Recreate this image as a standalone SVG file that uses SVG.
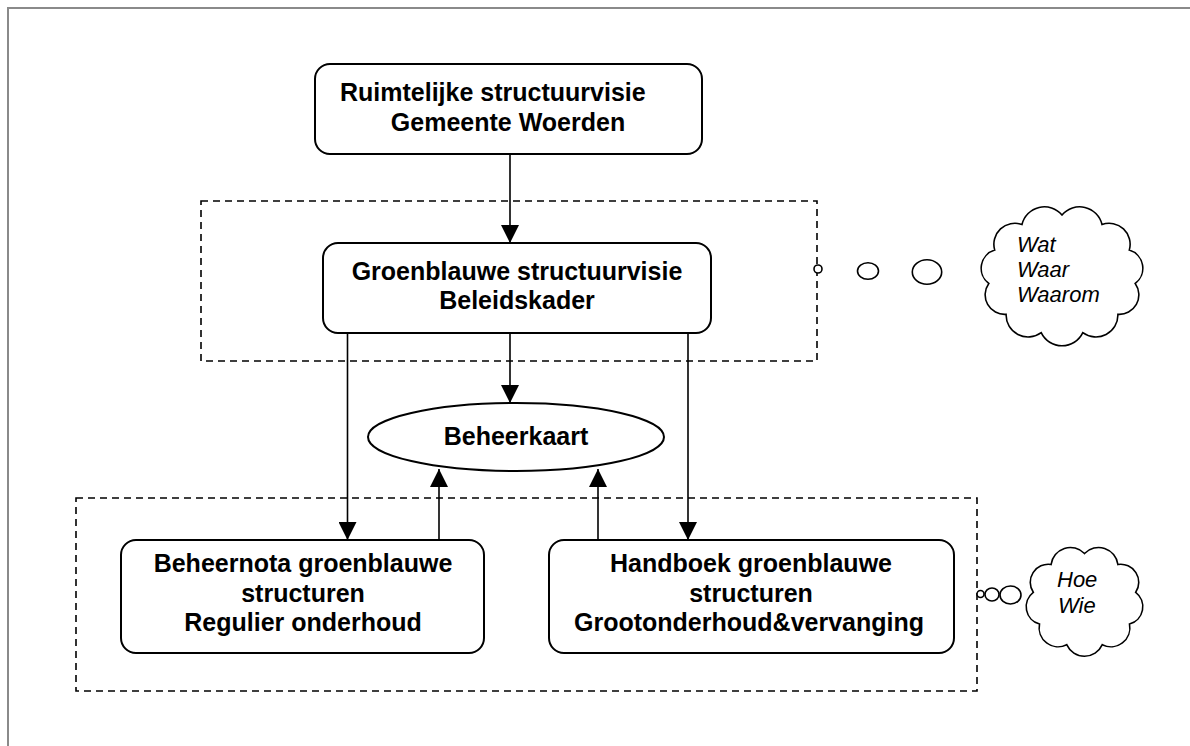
<svg xmlns="http://www.w3.org/2000/svg" width="1190" height="746" viewBox="0 0 1190 746">
  <style>
    .box { fill: #ffffff; stroke: #000000; stroke-width: 2; }
    .dash { fill: none; stroke: #000000; stroke-width: 1.6; stroke-dasharray: 7 5; }
    .conn { fill: none; stroke: #000000; stroke-width: 1.6; }
    .bubble { fill: #ffffff; stroke: #000000; stroke-width: 1.6; }
    .lbl { font-family: "Liberation Sans", Arial, sans-serif; font-size: 25px; font-weight: bold; fill: #000000; }
    .mid { text-anchor: middle; }
    .ital { font-family: "Liberation Sans", Arial, sans-serif; font-size: 22px; font-style: italic; fill: #000000; }
  </style>
  <defs>
    <marker id="arrow" markerUnits="userSpaceOnUse" markerWidth="18" markerHeight="18" refX="18" refY="9" orient="auto">
      <path d="M0,0 L18,9 L0,18 Z" fill="#000000"/>
    </marker>
  </defs>

  <rect x="0" y="0" width="1190" height="746" fill="#ffffff"/>
  <path d="M8,746 V8 H1190" fill="none" stroke="#8a8a8a" stroke-width="2"/>

  <g id="group-beleid">
    <rect class="dash" x="201" y="201" width="616" height="160"/>
  </g>
  <g id="group-uitvoering">
    <rect class="dash" x="76" y="498" width="901" height="193"/>
  </g>

  <g id="connectors">
    <line class="conn" x1="510" y1="154" x2="510" y2="243" marker-end="url(#arrow)"/>
    <line class="conn" x1="347.5" y1="333" x2="347.5" y2="540" marker-end="url(#arrow)"/>
    <line class="conn" x1="510" y1="333" x2="510" y2="403" marker-end="url(#arrow)"/>
    <line class="conn" x1="688" y1="333" x2="688" y2="540" marker-end="url(#arrow)"/>
    <line class="conn" x1="439" y1="540" x2="439" y2="469" marker-end="url(#arrow)"/>
    <line class="conn" x1="598" y1="540" x2="598" y2="469" marker-end="url(#arrow)"/>
  </g>

  <g id="node-ruimtelijk">
    <rect class="box" x="315" y="64" width="387" height="90" rx="15" ry="15"/>
    <text class="lbl" x="340" y="101">Ruimtelijke structuurvisie</text>
    <text class="lbl mid" x="508" y="131">Gemeente Woerden</text>
  </g>

  <g id="node-groenblauw">
    <rect class="box" x="323" y="243" width="388" height="90" rx="15" ry="15"/>
    <text class="lbl mid" x="517" y="280">Groenblauwe structuurvisie</text>
    <text class="lbl mid" x="517" y="309">Beleidskader</text>
  </g>

  <g id="node-beheerkaart">
    <ellipse class="box" cx="516" cy="437" rx="148" ry="34"/>
    <text class="lbl mid" x="516" y="445">Beheerkaart</text>
  </g>

  <g id="node-beheernota">
    <rect class="box" x="121" y="540" width="363" height="113" rx="15" ry="15"/>
    <text class="lbl mid" x="303" y="572">Beheernota groenblauwe</text>
    <text class="lbl mid" x="303" y="602">structuren</text>
    <text class="lbl mid" x="303" y="631">Regulier onderhoud</text>
  </g>

  <g id="node-handboek">
    <rect class="box" x="549" y="540" width="405" height="113" rx="15" ry="15"/>
    <text class="lbl mid" x="751" y="572">Handboek groenblauwe</text>
    <text class="lbl mid" x="751" y="602">structuren</text>
    <text class="lbl mid" x="749" y="631">Grootonderhoud&amp;vervanging</text>
  </g>

  <g id="cloud-wat">
    <circle class="bubble" cx="818" cy="269" r="4"/>
    <ellipse class="bubble" cx="868" cy="271" rx="10.5" ry="8.3"/>
    <ellipse class="bubble" cx="927" cy="272" rx="14.7" ry="12.3"/>
    <path class="bubble" d="M1062,215 A23,23 0 0,1 1102,224.5 A21,21 0 0,1 1129.3,250.1 A19,19 0 0,1 1135.2,283.5 A19.5,19.5 0 0,1 1117.9,314.3 A22,22 0 0,1 1082.8,332.6 A23,23 0 0,1 1041.2,332.6 A22,22 0 0,1 1006.1,314.3 A19.5,19.5 0 0,1 988.8,283.5 A19,19 0 0,1 994.7,250.1 A21,21 0 0,1 1022,224.5 A23,23 0 0,1 1062,215 Z"/>
    <text class="ital" x="1017" y="252">Wat</text>
    <text class="ital" x="1017" y="277">Waar</text>
    <text class="ital" x="1017" y="302">Waarom</text>
  </g>

  <g id="cloud-hoe">
    <circle class="bubble" cx="980.5" cy="594" r="3.5"/>
    <ellipse class="bubble" cx="992" cy="594.5" rx="7" ry="6.5"/>
    <ellipse class="bubble" cx="1010.5" cy="595" rx="10.5" ry="9"/>
    <path class="bubble" d="M1084.5,553.5 A19.5,19.5 0 0,1 1117.9,564.5 A18,18 0 0,1 1135.7,592.3 A18,18 0 0,1 1129.5,624 A19,19 0 0,1 1102.3,644.7 A19.5,19.5 0 0,1 1066.7,644.7 A19,19 0 0,1 1039.5,624 A18,18 0 0,1 1033.3,592.3 A18,18 0 0,1 1051.1,564.5 A19.5,19.5 0 0,1 1084.5,553.5 Z"/>
    <text class="ital" x="1057" y="587">Hoe</text>
    <text class="ital" x="1058" y="613">Wie</text>
  </g>
</svg>
